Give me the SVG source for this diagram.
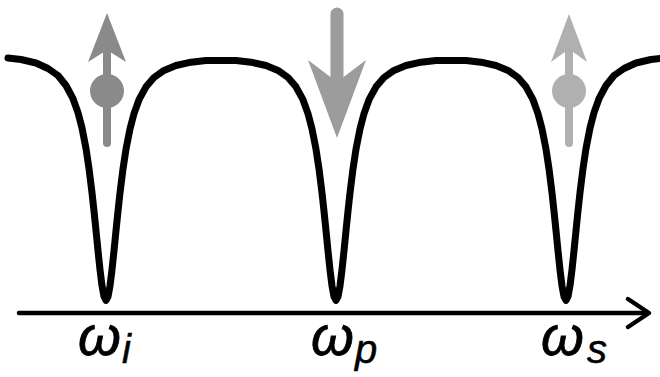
<svg xmlns="http://www.w3.org/2000/svg" width="660" height="377" viewBox="0 0 660 377">
<style>
.curve{fill:none;stroke:#000;stroke-width:7;stroke-linejoin:round;stroke-linecap:round}
.axis{fill:none;stroke:#000;stroke-width:4.5;stroke-linecap:round;stroke-linejoin:round}
.lbl{font-family:"Liberation Sans",Arial,sans-serif;font-style:italic;fill:#000;stroke:#000;stroke-width:0.8}
.w{font-size:55px}
.sub{font-size:40px;stroke-width:0.5}
</style>
<rect width="660" height="377" fill="#fff"/>
<g id="connectors">
<path class="curve" d="M8,58 L21,59.5 L36,63 L48,68.5 L58,75.5 L66,85.5 L73,98.7 L78,112.6 L82,128 L86,148.5 L89,168.6 L92,192.7 L94,211 L96,230.5 L98,250.7 L100,269.7 L102,285.7 L104,296.5 L106,300.4 L108,296.6 L110,285.8 L112,269.8 L114,250.8 L116,230.7 L118,211.1 L120,192.9 L123,168.9 L126,149.2 L130,128.8 L134,113.6 L139,99.7 L146,86.8 L154,77.5 L164,70.4 L176,65.5 L191,62.2 L206,60.5 L221,60.4 L236,60.5 L251,62.2 L266,65.5 L278,70.4 L288,77.5 L296,86.8 L303,99.7 L308,113.6 L312,128.8 L316,149.2 L319,168.9 L322,192.9 L324,211.1 L326,230.7 L328,250.8 L330,269.8 L332,285.8 L334,296.6 L336,300.4 L338,296.6 L340,285.8 L342,269.8 L344,250.8 L346,230.7 L348,211.1 L350,192.9 L353,168.9 L356,149.2 L360,128.8 L364,113.6 L369,99.7 L376,86.8 L384,77.5 L394,70.4 L406,65.5 L421,62.2 L436,60.5 L451,60.4 L466,60.5 L481,62.2 L496,65.5 L508,70.4 L518,77.5 L526,86.8 L533,99.7 L538,113.6 L542,128.8 L546,149.2 L549,168.9 L552,192.9 L554,211.1 L556,230.7 L558,250.8 L560,269.8 L562,285.8 L564,296.6 L566,300.4 L568,296.5 L570,285.7 L572,269.7 L574,250.7 L576,230.5 L578,211 L580,192.7 L583,168.6 L586,148.5 L590,128 L594,112.6 L599,98.7 L606,85.5 L614,75.5 L624,68.5 L636,63 L651,59.5 L664,58"/>
<line class="axis" x1="19" y1="313" x2="648" y2="313"/>
<polyline class="axis" stroke-width="5" points="628,299 649,313 628,327"/>
</g>
<g id="spin-i">
<line x1="107" y1="50" x2="107" y2="143" stroke="#8a8a8a" stroke-width="8" stroke-linecap="round"/>
<polygon points="107,13 126,62 107,50 88,62" fill="#8a8a8a"/>
<circle cx="107" cy="91" r="17" fill="#8a8a8a"/>
</g>
<g id="pump-p">
<line x1="337" y1="14" x2="337" y2="85" stroke="#9c9c9c" stroke-width="13" stroke-linecap="round"/>
<polygon points="308,60 337,82 366,60 337,138" fill="#9c9c9c"/>
</g>
<g id="spin-s">
<line x1="569" y1="50" x2="569" y2="143" stroke="#b0b0b0" stroke-width="8" stroke-linecap="round"/>
<polygon points="569,14 587,62 569,49 551,62" fill="#b0b0b0"/>
<circle cx="569" cy="91" r="17" fill="#b0b0b0"/>
</g>
<g id="labels">
<text class="lbl w" x="78" y="355">ω<tspan class="sub" x="122" y="363">i</tspan></text>
<text class="lbl w" x="311" y="355">ω<tspan class="sub" x="355" y="363">p</tspan></text>
<text class="lbl w" x="541" y="355">ω<tspan class="sub" x="587" y="363">s</tspan></text>
</g>
</svg>
